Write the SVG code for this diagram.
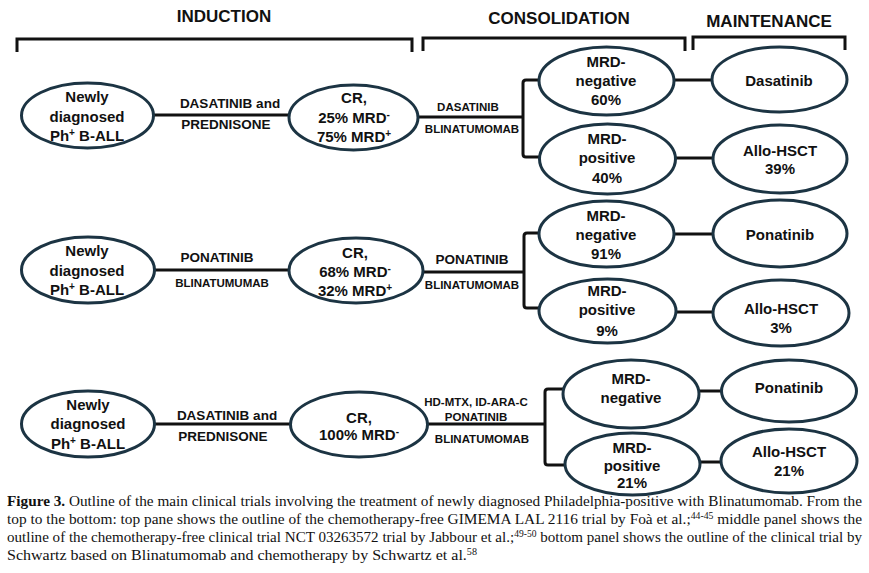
<svg xmlns="http://www.w3.org/2000/svg" width="869" height="573" viewBox="0 0 869 573">
<style>
.n{fill:#fff;stroke:#1c3443;stroke-width:3}
.c{fill:none;stroke:#111;stroke-width:3}
.t{font-family:"Liberation Sans",Arial,sans-serif;font-weight:bold;font-size:15px;fill:#111;text-anchor:middle}
.h{font-size:17px}
.m{font-size:13.5px}
.s{font-size:11.5px}
.cap{font-family:"Liberation Serif","Times New Roman",serif;font-size:15px;fill:#111}
</style>
<rect width="869" height="573" fill="#fff"/>
<g id="headers">
<text class="t h" x="224" y="21.5">INDUCTION</text>
<text class="t h" x="559" y="24">CONSOLIDATION</text>
<text class="t h" x="769" y="26.5">MAINTENANCE</text>
<path class="c" d="M17,52 V39 H412 V52"/>
<path class="c" d="M423,51 V38 H685 V51"/>
<path class="c" d="M693,50 V37 H845 V50"/>
</g>
<g id="connectors">
<path class="c" d="M154,115 H289"/>
<path class="c" d="M418,117 H523"/>
<path class="c" d="M540,80 H526 Q523,80 523,83 V154 Q523,157 526,157 H540"/>
<path class="c" d="M674,80 H712"/>
<path class="c" d="M676,158 H713"/>
<path class="c" d="M155,270 H289"/>
<path class="c" d="M423,272 H524"/>
<path class="c" d="M540,233 H527 Q524,233 524,236 V305 Q524,308 527,308 H540"/>
<path class="c" d="M674,234 H713"/>
<path class="c" d="M676,312 H713"/>
<path class="c" d="M155,424 H290"/>
<path class="c" d="M427,424 H545"/>
<path class="c" d="M565,389 H548 Q545,389 545,392 V462 Q545,465 548,465 H565"/>
<path class="c" d="M699,391 H721"/>
<path class="c" d="M700,462 H721"/>
</g>
<g id="drug-labels">
<text class="t m" x="230" y="107.5">DASATINIB and</text>
<text class="t m" x="226" y="129">PREDNISONE</text>
<text class="t s" x="468" y="110.5">DASATINIB</text>
<text class="t s" x="472" y="133">BLINATUMOMAB</text>
<text class="t m" x="217" y="261.5">PONATINIB</text>
<text class="t s" x="222" y="286.5">BLINATUMUMAB</text>
<text class="t m" x="472" y="264">PONATINIB</text>
<text class="t s" x="472" y="288.5">BLINATUMOMAB</text>
<text class="t m" x="227" y="419.5">DASATINIB and</text>
<text class="t m" x="223" y="441">PREDNISONE</text>
<text class="t s" x="476" y="406">HD-MTX, ID-ARA-C</text>
<text class="t s" x="476" y="421">PONATINIB</text>
<text class="t s" x="482" y="442.5">BLINATUMOMAB</text>
</g>
<g id="top-newly">
<ellipse class="n" cx="87.5" cy="115.5" rx="66" ry="32.5"/>
<text class="t" x="87" y="102">Newly</text>
<text class="t" x="87" y="121.5">diagnosed</text>
<text class="t" x="87" y="141">Ph<tspan font-size="10" dy="-5">+</tspan><tspan dy="5"> B-ALL</tspan></text>
</g>
<g id="top-cr">
<ellipse class="n" cx="353.5" cy="117.5" rx="64.5" ry="32.5"/>
<text class="t" x="354" y="103">CR,</text>
<text class="t" x="354" y="122.5">25% MRD<tspan font-size="10" dy="-5">-</tspan></text>
<text class="t" x="354" y="142">75% MRD<tspan font-size="10" dy="-5">+</tspan></text>
</g>
<g id="top-mrdneg">
<ellipse class="n" cx="606.5" cy="81" rx="67.5" ry="34"/>
<text class="t" x="606" y="66.5">MRD-</text>
<text class="t" x="606" y="85.5">negative</text>
<text class="t" x="606" y="105">60%</text>
</g>
<g id="top-mrdpos">
<ellipse class="n" cx="607.5" cy="159" rx="68" ry="35"/>
<text class="t" x="607" y="144">MRD-</text>
<text class="t" x="607" y="163">positive</text>
<text class="t" x="607" y="183">40%</text>
</g>
<g id="top-dasatinib">
<ellipse class="n" cx="779.5" cy="79.5" rx="67.5" ry="32.5"/>
<text class="t" x="779" y="85.5">Dasatinib</text>
</g>
<g id="top-allo">
<ellipse class="n" cx="780" cy="159" rx="67" ry="34"/>
<text class="t" x="780" y="155.5">Allo-HSCT</text>
<text class="t" x="780" y="174">39%</text>
</g>
<g id="mid-newly">
<ellipse class="n" cx="88" cy="270" rx="66.5" ry="33"/>
<text class="t" x="87" y="256">Newly</text>
<text class="t" x="87" y="276">diagnosed</text>
<text class="t" x="87" y="295">Ph<tspan font-size="10" dy="-5">+</tspan><tspan dy="5"> B-ALL</tspan></text>
</g>
<g id="mid-cr">
<ellipse class="n" cx="356" cy="270.5" rx="67" ry="32.5"/>
<text class="t" x="355" y="258">CR,</text>
<text class="t" x="355" y="277">68% MRD<tspan font-size="10" dy="-5">-</tspan></text>
<text class="t" x="355" y="296">32% MRD<tspan font-size="10" dy="-5">+</tspan></text>
</g>
<g id="mid-mrdneg">
<ellipse class="n" cx="606.5" cy="234" rx="67.5" ry="33"/>
<text class="t" x="606" y="220.5">MRD-</text>
<text class="t" x="606" y="240">negative</text>
<text class="t" x="606" y="259">91%</text>
</g>
<g id="mid-mrdpos">
<ellipse class="n" cx="607.5" cy="311" rx="68.5" ry="32"/>
<text class="t" x="607" y="296">MRD-</text>
<text class="t" x="607" y="315">positive</text>
<text class="t" x="607" y="336">9%</text>
</g>
<g id="mid-ponatinib">
<ellipse class="n" cx="780" cy="233.5" rx="67" ry="33.5"/>
<text class="t" x="780" y="239.5">Ponatinib</text>
</g>
<g id="mid-allo">
<ellipse class="n" cx="781" cy="313" rx="68" ry="33"/>
<text class="t" x="781" y="314">Allo-HSCT</text>
<text class="t" x="781" y="333">3%</text>
</g>
<g id="bot-newly">
<ellipse class="n" cx="88" cy="424" rx="66.5" ry="33"/>
<text class="t" x="88" y="409.5">Newly</text>
<text class="t" x="88" y="429">diagnosed</text>
<text class="t" x="88" y="448.5">Ph<tspan font-size="10" dy="-5">+</tspan><tspan dy="5"> B-ALL</tspan></text>
</g>
<g id="bot-cr">
<ellipse class="n" cx="359" cy="424.5" rx="68.5" ry="32.5"/>
<text class="t" x="359" y="422.5">CR,</text>
<text class="t" x="359" y="439.5">100% MRD<tspan font-size="10" dy="-5">-</tspan></text>
</g>
<g id="bot-mrdneg">
<ellipse class="n" cx="631" cy="394" rx="68" ry="34"/>
<text class="t" x="631" y="384">MRD-</text>
<text class="t" x="631" y="403">negative</text>
</g>
<g id="bot-mrdpos">
<ellipse class="n" cx="632.5" cy="464" rx="67.5" ry="31"/>
<text class="t" x="632" y="452.5">MRD-</text>
<text class="t" x="632" y="471">positive</text>
<text class="t" x="632" y="487.5">21%</text>
</g>
<g id="bot-ponatinib">
<ellipse class="n" cx="789" cy="391" rx="67.5" ry="31"/>
<text class="t" x="789" y="393">Ponatinib</text>
</g>
<g id="bot-allo">
<ellipse class="n" cx="789" cy="461" rx="68" ry="32"/>
<text class="t" x="789" y="457">Allo-HSCT</text>
<text class="t" x="789" y="476">21%</text>
</g>
<g id="caption">
<text class="cap" x="7" y="506" textLength="855" lengthAdjust="spacingAndGlyphs"><tspan font-weight="bold">Figure 3.</tspan> Outline of the main clinical trials involving the treatment of newly diagnosed Philadelphia-positive with Blinatumomab. From the</text>
<text class="cap" x="7" y="524" textLength="855" lengthAdjust="spacingAndGlyphs">top to the bottom: top pane shows the outline of the chemotherapy-free GIMEMA LAL 2116 trial by Foà et al.;<tspan font-size="9.5" dy="-5">44-45</tspan><tspan dy="5"> middle panel shows the</tspan></text>
<text class="cap" x="7" y="542" textLength="855" lengthAdjust="spacingAndGlyphs">outline of the chemotherapy-free clinical trial NCT 03263572 trial by Jabbour et al.;<tspan font-size="9.5" dy="-5">49-50</tspan><tspan dy="5"> bottom panel shows the outline of the clinical trial by</tspan></text>
<text class="cap" x="7" y="560" textLength="470" lengthAdjust="spacingAndGlyphs">Schwartz based on Blinatumomab and chemotherapy by Schwartz et al.<tspan font-size="9.5" dy="-5">58</tspan></text>
</g>
</svg>
